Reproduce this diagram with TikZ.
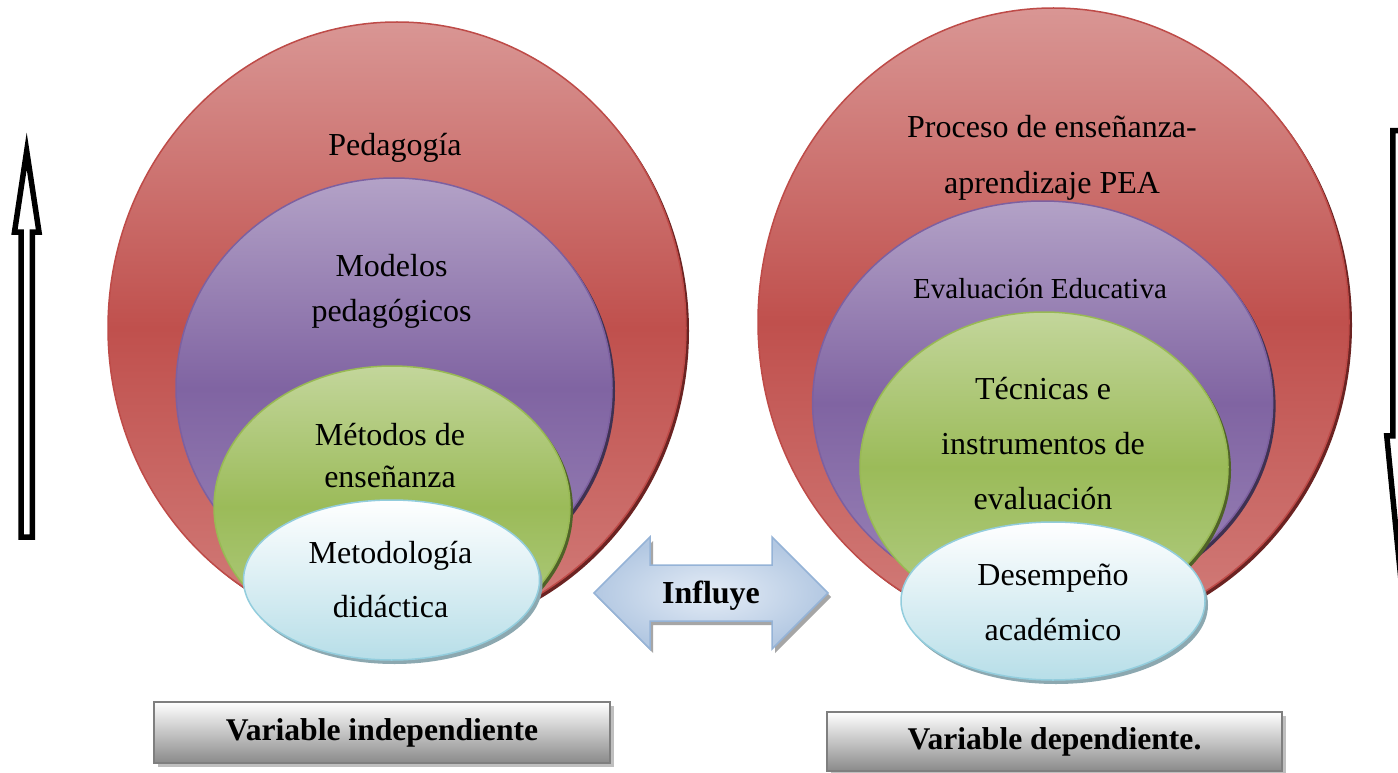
\documentclass[tikz,border=0pt]{standalone}
\usepackage{fontspec}
\setmainfont{Liberation Serif}
\usetikzlibrary{shapes.geometric,shadows}
\definecolor{redtop}{HTML}{D99694}
\definecolor{redmid}{HTML}{C0504D}
\definecolor{redbot}{HTML}{D27E7B}
\definecolor{redline}{HTML}{BE4B48}
\definecolor{redshade}{HTML}{6B2322}
\definecolor{purtop}{HTML}{B3A2C7}
\definecolor{purmid}{HTML}{8064A2}
\definecolor{purbot}{HTML}{9A84B8}
\definecolor{purline}{HTML}{7D60A0}
\definecolor{purshade}{HTML}{3F3151}
\definecolor{grntop}{HTML}{C3D69B}
\definecolor{grnmid}{HTML}{9BBB59}
\definecolor{grnbot}{HTML}{B3CE86}
\definecolor{grnline}{HTML}{98B954}
\definecolor{grnshade}{HTML}{4F6228}
\definecolor{blubot}{HTML}{B7DEE8}
\definecolor{bluline}{HTML}{93CDDD}
\definecolor{blushade}{HTML}{8CA8B0}
\definecolor{arrowin}{HTML}{E4ECF6}
\definecolor{arrowout}{HTML}{B3C8E2}
\definecolor{arrowline}{HTML}{95B3D7}
\definecolor{boxbot}{HTML}{8A8A8A}
\definecolor{boxline}{HTML}{7F7F7F}
\definecolor{boxshade}{HTML}{BFBFBF}
\begin{document}
\begin{tikzpicture}[x=1pt, y=-1pt,
  ring/.style={ellipse, inner sep=0pt, line width=1.5pt},
  redring/.style={ring, draw=redline, top color=redtop, bottom color=redbot, middle color=redmid,
    drop shadow={shadow xshift=3pt, shadow yshift=-3pt, fill=redshade, opacity=1}},
  purring/.style={ring, draw=purline, top color=purtop, bottom color=purbot, middle color=purmid,
    drop shadow={shadow xshift=3pt, shadow yshift=-3pt, fill=purshade, opacity=1}},
  grnring/.style={ring, draw=grnline, top color=grntop, bottom color=grnbot, middle color=grnmid,
    drop shadow={shadow xshift=3pt, shadow yshift=-3pt, fill=grnshade, opacity=1}},
  bluring/.style={ring, draw=bluline, top color=white, bottom color=blubot,
    drop shadow={shadow xshift=3pt, shadow yshift=-4pt, fill=blushade, opacity=1}},
  txt/.style={align=center, inner sep=0pt, font=\fontsize{32}{#1}\selectfont},
  btxt/.style={align=center, font=\fontsize{31.6}{38}\selectfont\bfseries},
  varbox/.style={btxt, draw=boxline, line width=2pt, top color=white, bottom color=boxbot,
    drop shadow={shadow xshift=4pt, shadow yshift=-4pt, fill=boxshade, opacity=1}},
  hollow/.style={draw=black, fill=white, line width=5.5pt, miter limit=12},
  influ/.style={draw=arrowline, line width=1.5pt, inner color=arrowin, outer color=arrowout,
    drop shadow={shadow xshift=3pt, shadow yshift=-4pt, fill=black!35, opacity=1}}]
\path[use as bounding box, fill=white] (0,0) rectangle (1398,773);
\node[redring, minimum width=578pt, minimum height=612pt] (ped) at (397,328){};
\node[purring, minimum width=436pt, minimum height=420pt] (mod) at (394,388){};
\node[grnring, minimum width=356pt, minimum height=282pt] (met) at (392,507){};
\node[bluring, minimum width=296pt, minimum height=160pt] (mdid) at (391.5,580){};
\node[txt=38] (pedtxt) at (395,148){Pedagogía};
\node[txt=45] (modtxt) at (391.5,291){Modelos\\pedagógicos};
\node[txt=42] (mettxt) at (390,456){Métodos de\\enseñanza};
\node[txt=54] (mdidtxt) at (390.5,580){Metodología\\didáctica};
\node[redring, minimum width=591pt, minimum height=628pt] (pea) at (1053.5,322){};
\node[purring, minimum width=460pt, minimum height=404pt] (eva) at (1042.6,403){};
\node[grnring, minimum width=368pt, minimum height=310pt] (tec) at (1044,467){};
\node[bluring, minimum width=304pt, minimum height=158pt] (des) at (1053,601){};
\node[txt=56] (peatxt) at (1052,158){Proceso de enseñanza-\\aprendizaje PEA};
\node[align=center, inner sep=0pt, font=\fontsize{29}{35}\selectfont] (evatxt) at (1040,289){Evaluación Educativa};
\node[txt=55] (tectxt) at (1043,444){Técnicas e\\instrumentos de\\evaluación};
\node[txt=55] (destxt) at (1053,602.5){Desempeño\\académico};
\draw[influ] (594,593) -- (650,537) -- (650,565) -- (772,565) -- (772,537) -- (828,593)
  -- (772,649) -- (772,621) -- (650,621) -- (650,649) -- cycle;
\node[btxt, font=\fontsize{32}{38}\selectfont\bfseries] (influye) at (711,596){Influye};
\draw[hollow] (26.7,151) -- (39,232) -- (32.25,232) -- (32.25,537) -- (21,537) -- (21,232)
  -- (14.5,232) -- cycle;
\draw[hollow] (1392.75,130.75) -- (1404.25,130.75) -- (1404.25,435.75) -- (1410.5,435.75)
  -- (1398.5,555) -- (1386.75,435.75) -- (1392.75,435.75) -- cycle;
\node[varbox, minimum width=456pt, minimum height=61pt] (indep) at (382,732.5){Variable independiente};
\node[varbox, minimum width=455pt, minimum height=59pt] (dep) at (1054.5,741.5){Variable dependiente.};
\end{tikzpicture}
\end{document}
